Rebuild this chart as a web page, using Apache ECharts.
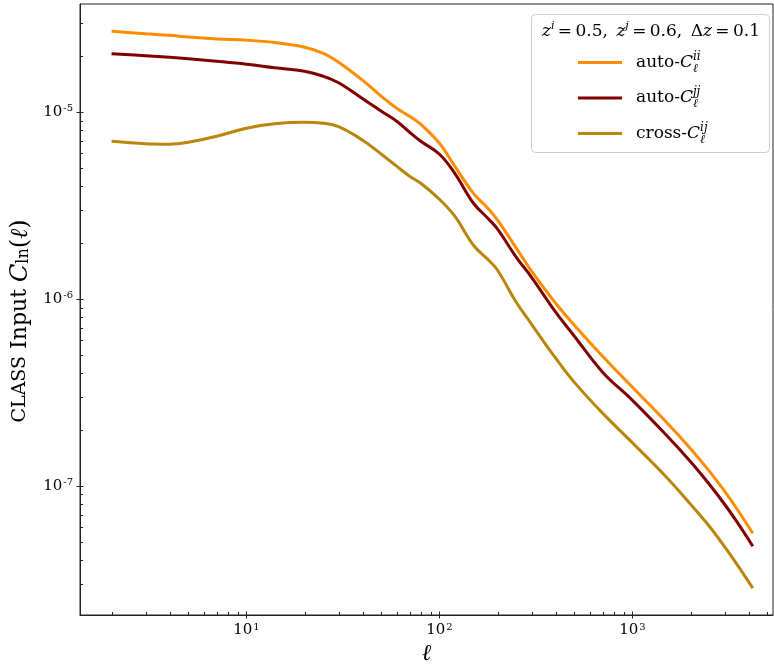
<!DOCTYPE html>
<html>
<head>
<meta charset="utf-8">
<script src="https://cdn.jsdelivr.net/npm/echarts@6/dist/echarts.min.js"></script>
<style>
  html, body { margin: 0; padding: 0; background: #ffffff; }
  #chart { width: 774px; height: 665px; }
</style>
</head>
<body>
<div id="chart"></div>
<script>
// Multipole values ℓ shared by all three spectra
const ell = [2, 3, 4, 5, 7, 10, 14, 20, 25, 30, 40, 50, 60, 70, 80, 100, 120, 150,
             180, 200, 250, 300, 400, 500, 700, 1000, 1500, 2000, 2500, 3000, 3500, 4200];

// auto-spectrum of bin i (z = 0.5)
const autoII = [2.70e-5, 2.62e-5, 2.57e-5, 2.52e-5, 2.46e-5, 2.42e-5, 2.35e-5, 2.22e-5,
                2.06e-5, 1.845e-5, 1.477e-5, 1.213e-5, 1.047e-5, 9.48e-6, 8.60e-6, 6.80e-6,
                5.13e-6, 3.67e-6, 3.02e-6, 2.64e-6, 1.87e-6, 1.41e-6, 9.48e-7, 7.24e-7,
                4.94e-7, 3.37e-7, 2.19e-7, 1.581e-7, 1.199e-7, 9.37e-8, 7.46e-8, 5.58e-8];

// auto-spectrum of bin j (z = 0.6)
const autoJJ = [2.05e-5, 2.00e-5, 1.96e-5, 1.925e-5, 1.867e-5, 1.80e-5, 1.723e-5, 1.65e-5,
                1.552e-5, 1.433e-5, 1.177e-5, 1.009e-5, 8.92e-6, 7.79e-6, 6.97e-6, 5.94e-6,
                4.70e-6, 3.25e-6, 2.67e-6, 2.36e-6, 1.67e-6, 1.306e-6, 8.49e-7, 6.32e-7,
                4.06e-7, 2.87e-7, 1.866e-7, 1.347e-7, 1.021e-7, 7.98e-8, 6.36e-8, 4.76e-8];

// cross-spectrum i x j
const crossIJ = [6.97e-6, 6.76e-6, 6.72e-6, 6.89e-6, 7.41e-6, 8.18e-6, 8.65e-6, 8.81e-6,
                 8.70e-6, 8.34e-6, 7.06e-6, 5.94e-6, 5.13e-6, 4.53e-6, 4.16e-6, 3.41e-6,
                 2.77e-6, 1.937e-6, 1.61e-6, 1.424e-6, 9.60e-7, 7.32e-7, 4.82e-7, 3.58e-7,
                 2.45e-7, 1.70e-7, 1.113e-7, 7.98e-8, 6.09e-8, 4.73e-8, 3.77e-8, 2.84e-8];

// Axis ranges and tick positions
const xRange = [1.372, 5346];
const yRange = [2.04e-8, 3.78e-5];
const xMajorTicks = [10, 100, 1000];
const xMinorTicks = [2, 3, 4, 5, 6, 7, 8, 9,
                     20, 30, 40, 50, 60, 70, 80, 90,
                     200, 300, 400, 500, 600, 700, 800, 900,
                     2000, 3000, 4000, 5000];
const yMajorTicks = [1e-7, 1e-6, 1e-5];
const yMinorTicks = [3e-8, 4e-8, 5e-8, 6e-8, 7e-8, 8e-8, 9e-8,
                     2e-7, 3e-7, 4e-7, 5e-7, 6e-7, 7e-7, 8e-7, 9e-7,
                     2e-6, 3e-6, 4e-6, 5e-6, 6e-6, 7e-6, 8e-6, 9e-6,
                     2e-5, 3e-5];

const seriesNames = ['auto-Cii', 'auto-Cjj', 'cross-Cij'];
const legendLabels = {
  'auto-Cii': '{t|auto-}{c|C}{p|ii}{b|ℓ}',
  'auto-Cjj': '{t|auto-}{c|C}{p|jj}{b|ℓ}',
  'cross-Cij': '{t|cross-}{c|C}{p|ij}{b|ℓ}'
};
const colors = ['#ff8c00', '#800000', '#b8860b'];
const axisColor = '#222222';

const chart = echarts.init(document.getElementById('chart'), null, { renderer: 'canvas' });

function pairs(ys) { return ell.map((l, i) => [l, ys[i]]); }

function powerLabel(v) {
  const e = Math.round(Math.log10(v));
  return '10{sup|' + e + '}';
}

// Ticks drawn through the axis scales: majors cross the spine, minors point inward
function renderTicks(params, api) {
  const cs = params.coordSys;
  const bottom = cs.y + cs.height;
  const left = cs.x;
  const st = { stroke: axisColor, lineWidth: 1 };
  const out = [];
  const xLine = (v, a, b) => {
    const px = Math.round(api.coord([v, yRange[0]])[0]) + 0.5;
    out.push({ type: 'line', shape: { x1: px, y1: bottom - a, x2: px, y2: bottom + b }, style: st });
  };
  const yLine = (v, a, b) => {
    const py = Math.round(api.coord([xRange[0], v])[1]) + 0.5;
    out.push({ type: 'line', shape: { x1: left - b, y1: py, x2: left + a, y2: py }, style: st });
  };
  xMajorTicks.forEach(v => xLine(v, 3.5, 3.5));
  xMinorTicks.forEach(v => xLine(v, 3, 0));
  yMajorTicks.forEach(v => yLine(v, 3.5, 3.5));
  yMinorTicks.forEach(v => yLine(v, 3, 0));
  return { type: 'group', children: out };
}

const lineSeries = [autoII, autoJJ, crossIJ].map((ys, k) => ({
  name: seriesNames[k],
  type: 'line',
  data: pairs(ys),
  smooth: 0.4,
  showSymbol: false,
  symbol: 'none',
  color: colors[k],
  lineStyle: { width: 3, color: colors[k] },
  z: 3
}));

const tickFont = {
  color: '#000', fontFamily: 'DejaVu Serif', fontSize: 15,
  rich: { sup: { fontSize: 10, fontFamily: 'DejaVu Serif', verticalAlign: 'top', color: '#000', padding: [0, 0, 7, 1] } }
};

const option = {
  animation: false,
  backgroundColor: '#ffffff',
  grid: {
    left: 80, top: 4, width: 693, height: 611,
    containLabel: false, outerBoundsMode: 'none',
    show: true, borderColor: axisColor, borderWidth: 1, backgroundColor: 'transparent'
  },
  xAxis: {
    type: 'log', logBase: 10, min: xRange[0], max: xRange[1],
    axisLine: { show: true, lineStyle: { color: axisColor, width: 1 } },
    axisTick: { show: false },
    splitLine: { show: false },
    axisLabel: Object.assign({ showMinLabel: false, showMaxLabel: false, margin: 7, formatter: powerLabel }, tickFont),
    name: 'ℓ', nameLocation: 'middle', nameGap: 26,
    nameTextStyle: { fontFamily: 'DejaVu Serif', fontStyle: 'italic', fontSize: 23, color: '#000' }
  },
  yAxis: {
    type: 'log', logBase: 10, min: yRange[0], max: yRange[1],
    axisLine: { show: true, lineStyle: { color: axisColor, width: 1 } },
    axisTick: { show: false },
    splitLine: { show: false },
    axisLabel: Object.assign({ showMinLabel: false, showMaxLabel: false, margin: 7, formatter: powerLabel }, tickFont),
    name: '{tt|CLASS} Input {m|C}{s|ln}{n|(}{m|ℓ}{n|)}',
    nameLocation: 'middle', nameRotate: 90, nameGap: 36,
    nameTextStyle: {
      color: '#000', fontFamily: 'DejaVu Serif', fontSize: 22, padding: [0, 23, 0, 0],
      rich: {
        tt: { fontFamily: 'DejaVu Serif', fontSize: 19, color: '#000' },
        m: { fontFamily: 'DejaVu Serif', fontStyle: 'italic', fontSize: 24, color: '#000' },
        s: { fontFamily: 'DejaVu Serif', fontSize: 16, color: '#000', verticalAlign: 'bottom' },
        n: { fontFamily: 'DejaVu Serif', fontSize: 24, color: '#000' }
      }
    }
  },
  legend: {
    data: seriesNames,
    orient: 'vertical',
    left: 578, top: 50.5, padding: 0,
    itemWidth: 44, itemHeight: 3, itemGap: 11.5,
    icon: 'rect',
    z: 6,
    formatter: name => legendLabels[name],
    textStyle: {
      color: '#000', fontFamily: 'DejaVu Serif', fontSize: 17,
      rich: {
        t: { fontFamily: 'DejaVu Serif', fontSize: 17, color: '#000', lineHeight: 24, padding: [0, 0, 0, 9] },
        c: { fontFamily: 'DejaVu Serif', fontStyle: 'italic', fontSize: 17, color: '#000', lineHeight: 24 },
        p: { fontFamily: 'DejaVu Serif', fontStyle: 'italic', fontSize: 12, color: '#000', verticalAlign: 'top', width: 0, lineHeight: 24 },
        b: { fontFamily: 'DejaVu Serif', fontStyle: 'italic', fontSize: 12, color: '#000', verticalAlign: 'bottom', lineHeight: 24 }
      }
    }
  },
  graphic: [
    {
      type: 'rect', left: 531, top: 14, z: 5,
      shape: { width: 238, height: 138, r: 4 },
      style: { fill: 'rgba(255,255,255,0.8)', stroke: '#cccccc', lineWidth: 1 }
    },
    {
      type: 'text', x: 651, y: 32, z: 6,
      style: {
        text: '{i|z}{s|i}{n|\u2009=\u20090.5,\u2002}{i|z}{s|j}{n|\u2009=\u20090.6,\u2002Δ}{i|z}{n|\u2009=\u20090.1}',
        align: 'center', verticalAlign: 'middle',
        rich: {
          i: { fontFamily: 'DejaVu Serif', fontStyle: 'italic', fontSize: 17, fill: '#000', lineHeight: 22 },
          n: { fontFamily: 'DejaVu Serif', fontSize: 17, fill: '#000', lineHeight: 22 },
          s: { fontFamily: 'DejaVu Serif', fontStyle: 'italic', fontSize: 11, fill: '#000', verticalAlign: 'top', lineHeight: 22 }
        }
      }
    }
  ],
  series: lineSeries.concat([{
    name: 'ticks',
    type: 'custom',
    data: [[10, 1e-6]],
    renderItem: renderTicks,
    silent: true,
    clip: false,
    z: 4
  }])
};

chart.setOption(option);
</script>
</body>
</html>
